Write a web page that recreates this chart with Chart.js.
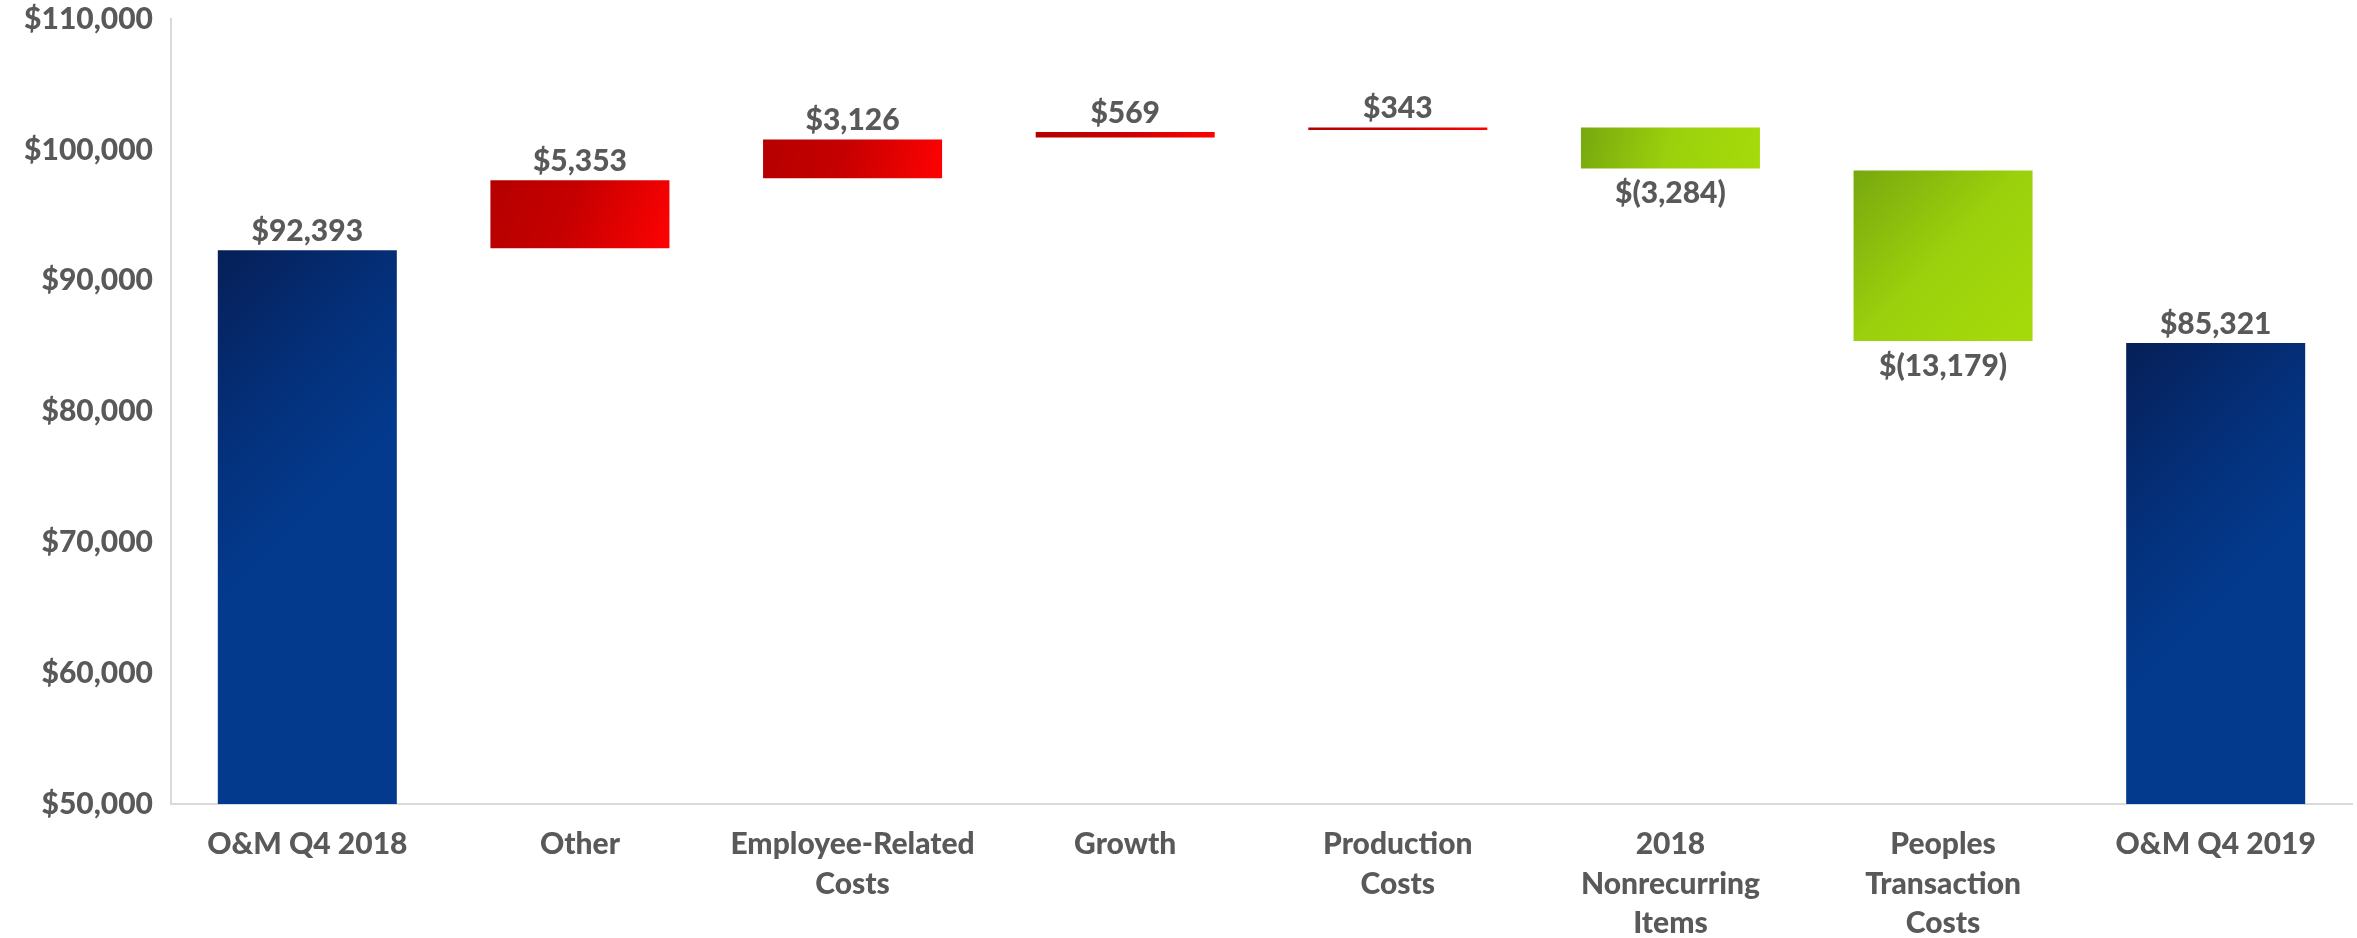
<!DOCTYPE html>
<html>
<head>
<meta charset="utf-8">
<title>O&amp;M Q4 2018 to Q4 2019</title>
<script src="https://cdn.jsdelivr.net/npm/chart.js@4.4.1/dist/chart.umd.min.js"></script>
<style>
  html, body { margin: 0; padding: 0; background: #ffffff; overflow: hidden; }
  #wrap { width: 2357px; height: 938px; }
</style>
</head>
<body>
<div id="wrap"><canvas id="chart" width="2357" height="938"></canvas></div>
<script>
// Waterfall: opening total, six changes, closing total
const categories = [
  'O&M Q4 2018',
  'Other',
  ['Employee-Related', 'Costs'],
  'Growth',
  ['Production', 'Costs'],
  ['2018', 'Nonrecurring', 'Items'],
  ['Peoples', 'Transaction', 'Costs'],
  'O&M Q4 2019'
];
const openingTotal = 92393;
const changes = [5353, 3126, 569, 343, -3284, -13179];
const closingTotal = 85321;
const yTickValues = [50000, 60000, 70000, 80000, 90000, 100000, 110000];

// Build floating [low, high] ranges plus the value each label states
const ranges = [];
const labelValues = [];
const kinds = [];
ranges.push([0, openingTotal]);
labelValues.push(openingTotal);
kinds.push('total');
let running = openingTotal;
changes.forEach(function (d) {
  const next = running + d;
  ranges.push([Math.min(running, next), Math.max(running, next)]);
  labelValues.push(d);
  kinds.push(d >= 0 ? 'up' : 'down');
  running = next;
});
ranges.push([0, closingTotal]);
labelValues.push(closingTotal);
kinds.push('total');

const FONT = 'Lato, "Open Sans", sans-serif';
const WEIGHT = '900';
const TEXT = '#595959';

function money(v) {
  const a = Math.abs(v).toLocaleString('en-US');
  return v < 0 ? '$(' + a + ')' : '$' + a;
}

const gradientStops = {
  total: [[0, '#061f57'], [0.55, '#04307a'], [1, '#033a8e']],
  up:    [[0, '#b50000'], [0.45, '#c60000'], [1, '#ff0202']],
  down:  [[0, '#77a70f'], [0.5, '#9bd10c'], [1, '#a6db0a']]
};
const flatColors = { total: '#04307a', up: '#c60000', down: '#9bd10c' };

// Fill each bar with a diagonal gradient spanning its own box
const barGradients = {
  id: 'barGradients',
  beforeDatasetsDraw(chart) {
    const ctx = chart.ctx;
    const area = chart.chartArea;
    const meta = chart.getDatasetMeta(0);
    meta.data.forEach(function (el, i) {
      const w = el.width;
      const left = el.x - w / 2;
      const top = Math.min(el.y, el.base);
      const bottom = Math.min(Math.max(el.y, el.base), area.bottom);
      const h = bottom - top;
      const g = ctx.createLinearGradient(left, top, left + w, top + Math.min(h, w));
      gradientStops[kinds[i]].forEach(function (s) { g.addColorStop(s[0], s[1]); });
      el.options = Object.assign({}, el.options, { backgroundColor: g });
    });
  }
};

// Value labels: above rising bars and totals, below falling bars
const valueLabels = {
  id: 'valueLabels',
  afterDatasetsDraw(chart) {
    const ctx = chart.ctx;
    const meta = chart.getDatasetMeta(0);
    ctx.save();
    ctx.font = WEIGHT + ' 30px ' + FONT;
    ctx.fillStyle = TEXT;
    ctx.textAlign = 'center';
    meta.data.forEach(function (el, i) {
      const top = Math.min(el.y, el.base);
      const bottom = Math.max(el.y, el.base);
      if (kinds[i] === 'down') {
        ctx.textBaseline = 'top';
        ctx.fillText(money(labelValues[i]), el.x, bottom + 9);
      } else {
        ctx.textBaseline = 'bottom';
        ctx.fillText(money(labelValues[i]), el.x, top - 3);
      }
    });
    ctx.restore();
  }
};

new Chart(document.getElementById('chart'), {
  type: 'bar',
  data: {
    labels: categories,
    datasets: [{
      data: ranges,
      backgroundColor: function (c) { return flatColors[kinds[c.dataIndex]]; },
      borderColor: 'rgba(255,255,255,0.35)',
      borderWidth: 1,
      borderSkipped: false,
      barPercentage: 1,
      categoryPercentage: 0.664
    }]
  },
  options: {
    responsive: false,
    devicePixelRatio: 1,
    animation: false,
    layout: { padding: { top: 19, right: 5, left: 0, bottom: 0 } },
    plugins: {
      legend: { display: false },
      tooltip: { enabled: false }
    },
    scales: {
      x: {
        grid: { display: false, drawTicks: false },
        border: { display: true, color: '#d9d9d9', width: 2 },
        ticks: {
          color: TEXT,
          padding: 20,
          maxRotation: 0,
          autoSkip: false,
          font: { family: FONT, size: 30, weight: WEIGHT, lineHeight: 1.33 }
        },
        afterFit(scale) { scale.height = 134; }
      },
      y: {
        min: yTickValues[0],
        max: yTickValues[yTickValues.length - 1],
        afterBuildTicks(scale) {
          scale.ticks = yTickValues.map(function (v) { return { value: v }; });
        },
        grid: { display: false, drawTicks: false },
        border: { display: true, color: '#d9d9d9', width: 2 },
        ticks: {
          color: TEXT,
          padding: 18,
          // single-line labels: a tight line box keeps the plot top flush with the padding
          font: { family: FONT, size: 30, weight: WEIGHT, lineHeight: 0.05 },
          callback: function (v) { return '$' + Number(v).toLocaleString('en-US'); }
        },
        afterFit(scale) { scale.width = 171; }
      }
    }
  },
  plugins: [barGradients, valueLabels]
});
</script>
</body>
</html>
